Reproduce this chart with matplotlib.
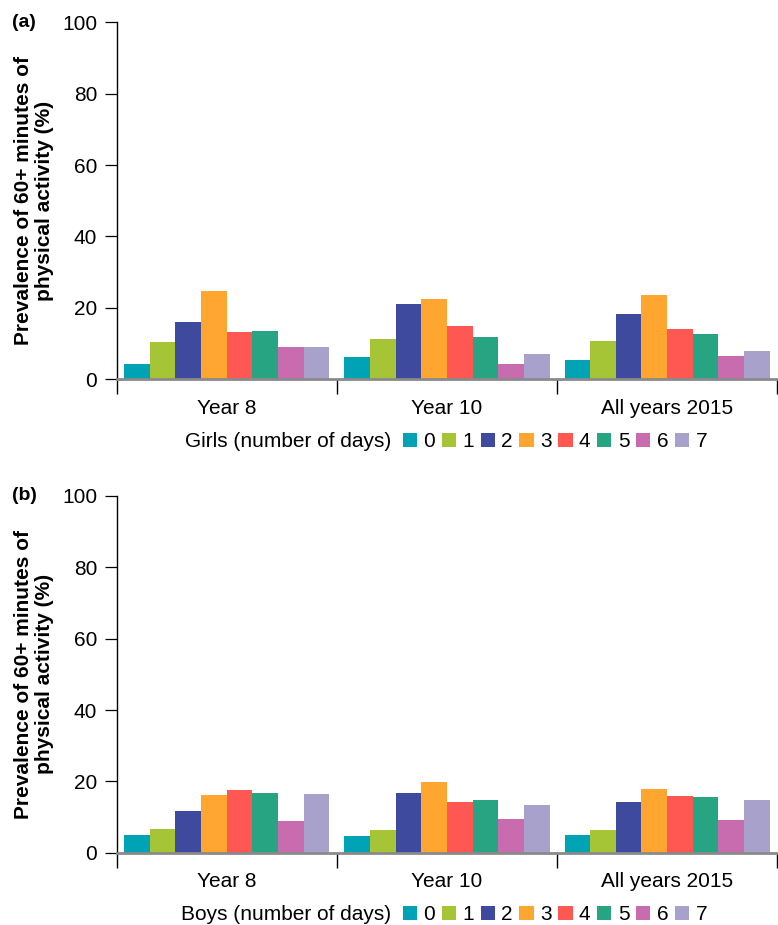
import numpy as np
import matplotlib.pyplot as plt
from matplotlib.patches import Patch

plt.rcParams["font.family"] = ["Liberation Sans", "DejaVu Sans"]

groups = ["Year 8", "Year 10", "All years 2015"]
days = ["0", "1", "2", "3", "4", "5", "6", "7"]
colors = ["#00A3B4", "#A5C436", "#3D4A9E", "#FFA630",
          "#FF5853", "#27A583", "#C86BAF", "#A7A1CB"]

# rows = day count, columns = group
girls = [
    [4.3, 6.3, 5.5],
    [10.3, 11.4, 10.8],
    [15.9, 21.2, 18.4],
    [24.7, 22.6, 23.7],
    [13.3, 15.0, 14.2],
    [13.6, 11.9, 12.8],
    [9.1, 4.4, 6.6],
    [8.9, 7.2, 8.0],
]
boys = [
    [5.0, 4.7, 5.0],
    [6.7, 6.4, 6.4],
    [11.7, 16.8, 14.3],
    [16.3, 19.9, 17.9],
    [17.7, 14.3, 16.0],
    [16.8, 14.8, 15.7],
    [8.9, 9.5, 9.2],
    [16.5, 13.4, 14.8],
]

fig = plt.figure(figsize=(7.78, 9.25), dpi=100)
ax_a = fig.add_axes([0.150, 0.590, 0.849, 0.386])
ax_b = fig.add_axes([0.150, 0.078, 0.849, 0.386])

bw = 0.1165
x = np.arange(len(groups))
fs = 15


def draw(ax, data, tag, legend_title, legend_y):
    for i, vals in enumerate(data):
        off = (i - 3.5) * bw
        ax.bar(x + off, vals, width=bw, color=colors[i], linewidth=0, zorder=2)
    ax.set_xlim(-0.5, 2.5)
    ax.set_ylim(0, 100)
    ax.set_yticks([0, 20, 40, 60, 80, 100])
    ax.tick_params(axis="y", length=9, width=0.9, labelsize=fs, pad=5)
    ax.set_xticks([-0.5, 0.5, 1.5, 2.5])
    ax.set_xticklabels([])
    ax.tick_params(axis="x", which="major", length=11, width=1.0, direction="out")
    ax.set_xticks(x, minor=True)
    ax.set_xticklabels(groups, minor=True, fontsize=fs)
    ax.tick_params(axis="x", which="minor", length=0, pad=14)
    for s in ["top", "right"]:
        ax.spines[s].set_visible(False)
    ax.spines["left"].set_linewidth(1.0)
    ax.spines["bottom"].set_color("#8a8a8a")
    ax.spines["bottom"].set_linewidth(2.0)
    ax.spines["bottom"].set_zorder(3)
    ax.set_ylabel("Prevalence of 60+ minutes of\nphysical activity (%)",
                  fontsize=fs, fontweight="bold", labelpad=6, linespacing=1.1)
    ax.text(-0.159, 1.0, tag, transform=ax.transAxes, fontsize=14,
            fontweight="bold", ha="left", va="center")
    handles = [Patch(facecolor=c, edgecolor="none") for c in colors]
    ax.legend(handles, days, ncol=8, loc="center left",
              bbox_to_anchor=(0.433, legend_y), frameon=False,
              fontsize=fs, handlelength=0.68, handleheight=0.68,
              handletextpad=0.3, columnspacing=0.33, borderaxespad=0,
              borderpad=0)
    ax.text(0.415, legend_y, legend_title, transform=ax.transAxes,
            fontsize=fs, ha="right", va="center")


draw(ax_a, girls, "(a)", "Girls (number of days)", -0.175)
draw(ax_b, boys, "(b)", "Boys (number of days)", -0.174)

fig.savefig("out.png", dpi=100)
